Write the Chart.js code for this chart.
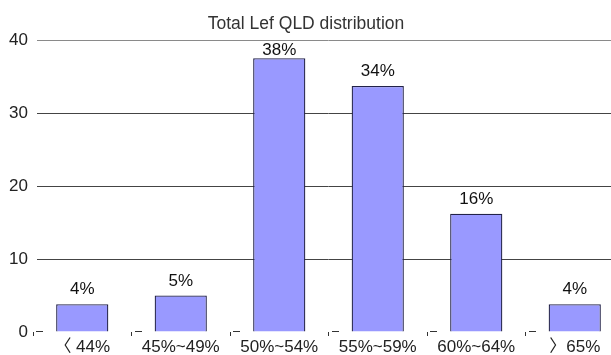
<!DOCTYPE html>
<html>
<head>
<meta charset="utf-8">
<script src="https://cdn.jsdelivr.net/npm/chart.js@4/dist/chart.umd.min.js"></script>
<style>
  html, body { margin: 0; padding: 0; background: #fff; overflow: hidden; }
  #wrap { width: 624px; height: 355px; }
</style>
</head>
<body>
<div id="wrap"><canvas id="chart"></canvas></div>
<script>
const chartTitle = "Total Lef QLD distribution";
const categories = ["〈 44%", "45%~49%", "50%~54%", "55%~59%", "60%~64%", "〉65%"];
const shares = [3.8, 5.0, 37.5, 33.7, 16.2, 3.8];
const yTicks = [0, 10, 20, 30, 40];

const FONT = "'Liberation Sans', Arial, 'Noto Sans CJK KR', sans-serif";

// title sits over the top gridline, centred a little left of the plot
const titlePlugin = {
  id: "titleText",
  afterDraw(chart) {
    const ctx = chart.ctx;
    ctx.save();
    ctx.font = "17.5px " + FONT;
    ctx.fillStyle = "#333";
    ctx.textAlign = "center";
    ctx.textBaseline = "alphabetic";
    ctx.fillText(chartTitle, 306, 29);
    ctx.restore();
  },
};

// gridlines start a few pixels right of the axis edge
const gridTrim = {
  id: "gridTrim",
  beforeDatasetsDraw(chart) {
    const a = chart.chartArea;
    const ctx = chart.ctx;
    ctx.save();
    ctx.fillStyle = "#fff";
    ctx.fillRect(a.left, a.top - 2, 4, a.height + 1);
    ctx.restore();
  },
};

// small dashes along the zero line at each category boundary
const baseDashes = {
  id: "baseDashes",
  afterDraw(chart) {
    const x = chart.scales.x;
    const ctx = chart.ctx;
    const y = Math.round(chart.chartArea.bottom) - 0.5;
    ctx.save();
    ctx.strokeStyle = "#333";
    ctx.lineWidth = 1;
    for (let i = 0; i <= categories.length; i++) {
      const bx = Math.round(x.getPixelForValue(i - 0.5));
      ctx.beginPath();
      ctx.moveTo(bx + 3, y);
      ctx.lineTo(bx + 10, y);
      ctx.stroke();
    }
    ctx.restore();
  },
};

// percentage labels above the bars
const valueLabels = {
  id: "valueLabels",
  afterDatasetsDraw(chart) {
    const ctx = chart.ctx;
    const meta = chart.getDatasetMeta(0);
    const top = chart.chartArea.top;
    ctx.save();
    ctx.font = "17px " + FONT;
    ctx.fillStyle = "#111";
    ctx.textAlign = "center";
    ctx.textBaseline = "alphabetic";
    meta.data.forEach((bar, i) => {
      const y = Math.max(bar.y - 10, top + 15);
      ctx.fillText(Math.round(shares[i]) + "%", bar.x, y);
    });
    ctx.restore();
  },
};

new Chart(document.getElementById("chart"), {
  type: "bar",
  data: {
    labels: categories,
    datasets: [
      {
        data: shares,
        backgroundColor: "#9999ff",
        borderColor: "#222248",
        borderWidth: 1.3,
        categoryPercentage: 1,
        barPercentage: 0.53,
      },
    ],
  },
  options: {
    responsive: true,
    maintainAspectRatio: false,
    animation: false,
    layout: { padding: { top: 40, left: 0, right: 0, bottom: 0 } },
    plugins: {
      legend: { display: false },
      title: { display: false },
      tooltip: { enabled: false },
    },
    scales: {
      x: {
        afterFit(scale) { scale.height = 23; },
        border: { display: false },
        grid: {
          drawOnChartArea: false,
          drawTicks: true,
          tickLength: 4,
          color: "#333",
        },
        ticks: {
          color: "#222",
          padding: 1,
          maxRotation: 0,
          autoSkip: false,
          font: { family: FONT, size: 17 },
        },
      },
      y: {
        min: 0,
        max: 40,
        afterFit(scale) { scale.width = 33; },
        afterBuildTicks(scale) {
          scale.ticks = yTicks.map((v) => ({ value: v }));
        },
        border: { display: false },
        grid: {
          drawTicks: false,
          color: (c) => {
            if (c.tick.value === 0) return "rgba(0,0,0,0)";
            if (c.tick.value === 40) return "#8a8a8a";
            return "#444";
          },
        },
        ticks: {
          color: "#222",
          padding: 5,
          font: { family: FONT, size: 17 },
        },
      },
    },
  },
  plugins: [gridTrim, valueLabels, baseDashes, titlePlugin],
});
</script>
</body>
</html>
